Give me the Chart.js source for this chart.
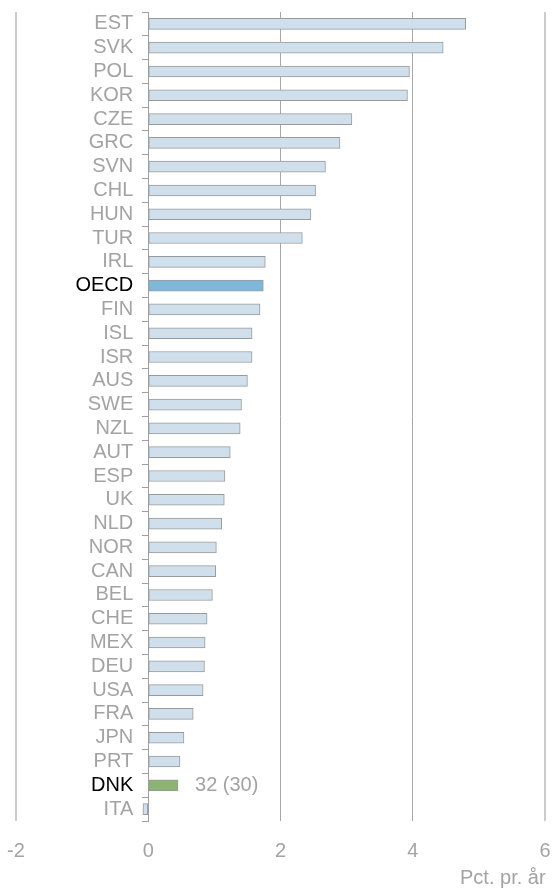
<!DOCTYPE html>
<html>
<head>
<meta charset="utf-8">
<script src="https://cdn.jsdelivr.net/npm/chart.js@4/dist/chart.umd.min.js"></script>
<style>
  html, body { margin: 0; padding: 0; background: #fff; }
  canvas { display: block; }
</style>
</head>
<body>
<canvas id="myChart" width="553" height="890"></canvas>
<script>
'use strict';

// ====================== DATA ======================//
let countries = ['EST', 'SVK', 'POL', 'KOR', 'CZE', 'GRC', 'SVN', 'CHL', 'HUN', 'TUR', 'IRL', 'OECD',
  'FIN', 'ISL', 'ISR', 'AUS', 'SWE', 'NZL', 'AUT', 'ESP', 'UK', 'NLD', 'NOR', 'CAN', 'BEL', 'CHE',
  'MEX', 'DEU', 'USA', 'FRA', 'JPN', 'PRT', 'DNK', 'ITA'];
let growth = [4.80, 4.46, 3.95, 3.92, 3.08, 2.90, 2.68, 2.53, 2.46, 2.33, 1.77, 1.74,
  1.69, 1.57, 1.57, 1.50, 1.41, 1.39, 1.24, 1.16, 1.15, 1.11, 1.03, 1.02, 0.97, 0.89,
  0.86, 0.85, 0.83, 0.68, 0.54, 0.48, 0.45, -0.08];
let xTicks = [-2, 0, 2, 4, 6];
let dnkNote = '32 (30)';
let unitLabel = 'Pct. pr. år';

let fontFamily = '"Liberation Sans", Arial, sans-serif';

// ====================== HELPERS ======================//
function barColor(name) {
  if (name === 'OECD') return '#7db8d8';
  if (name === 'DNK') return '#8db374';
  return '#cfe0ec';
}

function labelColor(name) {
  if (name === 'OECD' || name === 'DNK') return '#000';
  return '#a3a3a3';
}

// stop the axes from pushing the plot area inwards
function noPadding(scale) {
  scale.paddingTop = 0;
  scale.paddingBottom = 0;
  scale.paddingLeft = 0;
  scale.paddingRight = 0;
}

// annotation next to DNK + unit text at bottom right
let notePlugin = {
  id: 'notes',
  afterDraw(chart) {
    let ctx = chart.ctx;
    let x = chart.scales.x;
    let y = chart.scales.y;
    let i = countries.indexOf('DNK');
    ctx.save();
    ctx.font = '20px ' + fontFamily;
    ctx.fillStyle = '#a3a3a3';
    ctx.textBaseline = 'middle';
    ctx.textAlign = 'left';
    ctx.fillText(dnkNote, x.getPixelForValue(growth[i]) + 17, y.getPixelForValue(i));
    ctx.fillText(unitLabel, 460, 878);
    ctx.restore();
  }
};

// labels sit ~15px left of the zero line (8 units over ~529px)
let labelGap = -15 / (529 / 8);

// ====================== CHART ======================//
let chartObject = {
  type: 'bar',
  data: {
    labels: countries,
    datasets: [{
      data: growth,
      backgroundColor: countries.map(barColor),
      borderColor: '#9a9a9a',
      borderWidth: 1,
      borderSkipped: false,
      barThickness: 11
    }]
  },
  options: {
    indexAxis: 'y',
    responsive: false,
    animation: false,
    devicePixelRatio: 1,
    layout: { padding: { top: 12, left: 16, right: 8, bottom: 9 } },
    plugins: {
      legend: { display: false },
      tooltip: { enabled: false }
    },
    scales: {
      x: {
        min: xTicks[0],
        max: xTicks[xTicks.length - 1],
        afterBuildTicks: function (scale) {
          scale.ticks = xTicks.map(v => ({ value: v }));
        },
        afterFit: noPadding,
        border: { display: false },
        grid: {
          drawTicks: false,
          color: function (c) {
            let v = c.tick ? c.tick.value : null;
            if (v === 0) return 'rgba(0,0,0,0)';
            if (v === -2 || v === 6) return '#cccccc';
            return '#a8a8a8';
          },
          lineWidth: function (c) {
            let v = c.tick ? c.tick.value : null;
            return (v === -2 || v === 6) ? 2 : 1;
          }
        },
        ticks: {
          padding: 18,
          color: '#a3a3a3',
          font: { family: fontFamily, size: 20 }
        }
      },
      y: {
        position: { x: 0 },
        offset: true,
        afterFit: noPadding,
        border: { display: true, color: '#a0a0a0', width: 1 },
        grid: {
          offset: true,
          drawOnChartArea: false,
          drawTicks: true,
          tickLength: 6,
          color: '#a0a0a0'
        },
        ticks: { display: false, autoSkip: false }
      },
      yLabels: {
        type: 'category',
        axis: 'y',
        position: { x: labelGap },
        offset: true,
        afterFit: noPadding,
        border: { display: false },
        grid: { display: false },
        ticks: {
          autoSkip: false,
          color: function (c) { return labelColor(countries[c.index]); },
          font: { family: fontFamily, size: 20 }
        }
      }
    }
  },
  plugins: [notePlugin]
};

let ctx = document.getElementById('myChart').getContext('2d');
let myChart = new Chart(ctx, chartObject);
</script>
</body>
</html>
